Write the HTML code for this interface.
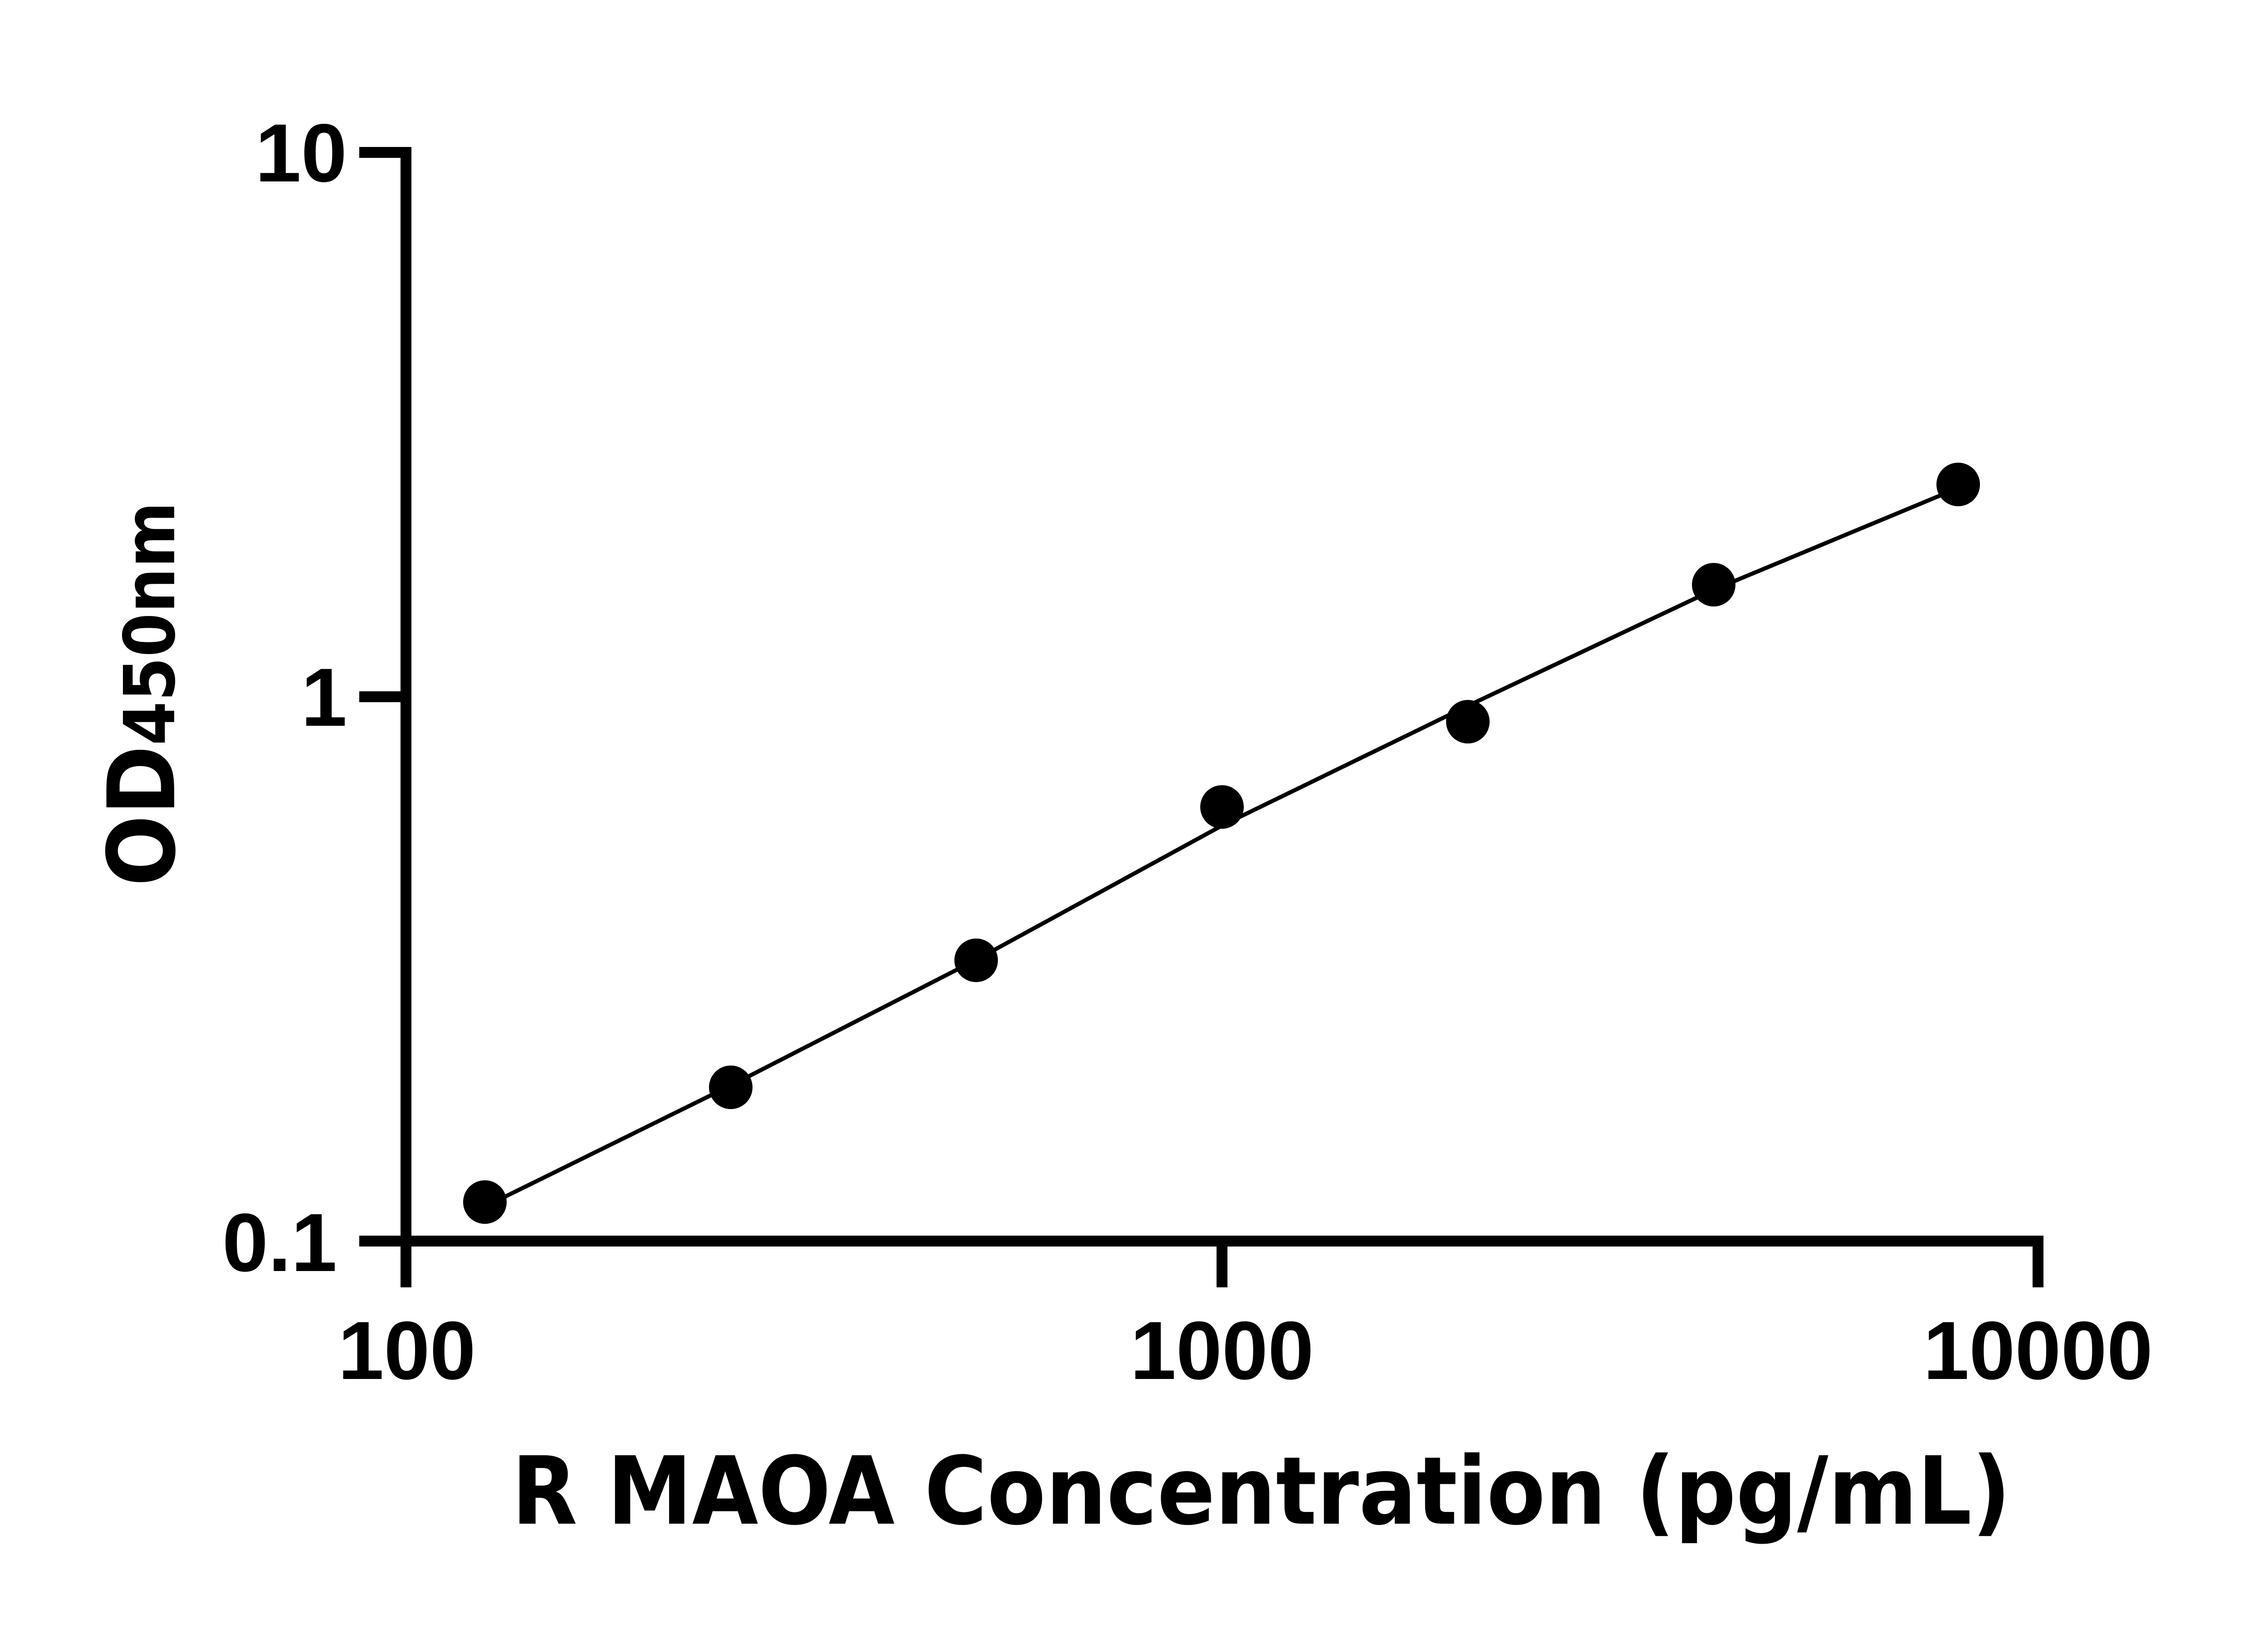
<!DOCTYPE html>
<html><head><meta charset="utf-8"><style>html,body{margin:0;padding:0;background:#fff}svg{display:block}</style></head>
<body>
<svg width="5046" height="3600" viewBox="0 0 5046 3600" xmlns="http://www.w3.org/2000/svg">
<g stroke="#000" stroke-width="24" fill="none" stroke-linecap="butt">
<line x1="895" y1="324" x2="895" y2="2838"/>
<line x1="883" y1="2736" x2="4505" y2="2736"/>
<line x1="792" y1="336" x2="907" y2="336"/>
<line x1="792" y1="1536" x2="907" y2="1536"/>
<line x1="792" y1="2736" x2="907" y2="2736"/>
<line x1="2694" y1="2736" x2="2694" y2="2838"/>
<line x1="4493" y1="2724" x2="4493" y2="2838"/>
</g>
<polyline points="1069,2660 1611,2393 2152,2116 2694,1820 3236,1556 3778,1300 4319,1075" fill="none" stroke="#000" stroke-width="9" stroke-linejoin="round"/>
<g fill="#000">
<circle cx="1069" cy="2650" r="48"/>
<circle cx="1611" cy="2397" r="48"/>
<circle cx="2152" cy="2117" r="48"/>
<circle cx="2694" cy="1779" r="48"/>
<circle cx="3236" cy="1591" r="48"/>
<circle cx="3778" cy="1289" r="48"/>
<circle cx="4317" cy="1068" r="48"/>
</g>
<g font-family="'Liberation Sans', Arial, sans-serif" font-weight="bold" font-size="182" fill="#000">
<text x="765" y="400" text-anchor="end">10</text>
<text x="765" y="1600" text-anchor="end">1</text>
<text x="743" y="2802" text-anchor="end">0.1</text>
<text x="897" y="3040" text-anchor="middle">100</text>
<text x="2694" y="3040" text-anchor="middle">1000</text>
<text x="4493" y="3040" text-anchor="middle">10000</text>
</g>
<text x="1128" y="3359" font-family="'DejaVu Sans', sans-serif" font-weight="bold" font-size="207" textLength="3305" lengthAdjust="spacingAndGlyphs">R MAOA Concentration (pg/mL)</text>
<text transform="translate(384,1954) rotate(-90)" font-family="'DejaVu Sans', sans-serif" font-weight="bold" font-size="205" textLength="848" lengthAdjust="spacingAndGlyphs">OD<tspan font-size="155">450nm</tspan></text>
</svg>
</body></html>
